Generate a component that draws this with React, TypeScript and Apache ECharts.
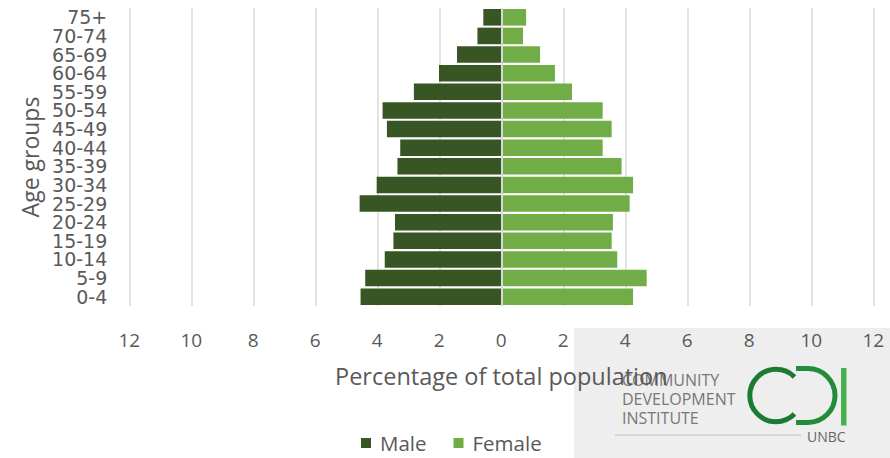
import React, { useEffect, useRef } from "react";
import * as echarts from "echarts";

const ageGroups = ["0-4", "5-9", "10-14", "15-19", "20-24", "25-29", "30-34", "35-39", "40-44", "45-49", "50-54", "55-59", "60-64", "65-69", "70-74", "75+"];
const maleValues = [4.54, 4.39, 3.76, 3.48, 3.43, 4.57, 4.02, 3.35, 3.26, 3.69, 3.83, 2.82, 2.01, 1.43, 0.77, 0.58];
const femaleValues = [4.25, 4.69, 3.74, 3.56, 3.6, 4.14, 4.25, 3.88, 3.27, 3.56, 3.27, 2.28, 1.73, 1.25, 0.7, 0.8];
const seriesNames = ["Male", "Female"];
const axisTitleX = "Percentage of total population";
const axisTitleY = "Age groups";
const logoLines = ["COMMUNITY", "DEVELOPMENT", "INSTITUTE"];

const MALE = "#375623";
const FEMALE = "#70AD47";
const TXT = "#595959";

export default function App() {
  const ref = useRef<HTMLDivElement>(null);
  useEffect(() => {
    document.body.style.margin = "0";
    const chart = echarts.init(ref.current!, null, { renderer: "svg" });
    chart.setOption({
      animation: false,
      backgroundColor: "#ffffff",
      grid: { left: 129.3, right: 16.7, top: 8, bottom: 152, containLabel: false },
      xAxis: {
        type: "value",
        min: -12,
        max: 12,
        interval: 2,
        axisLine: { show: false },
        axisTick: { show: false },
        splitLine: { show: true, lineStyle: { color: "#d9d9d9", width: 1.5 } },
        axisLabel: {
          formatter: (v: number) => String(Math.abs(v)),
          color: TXT,
          fontFamily: "Open Sans",
          fontSize: 19,
          margin: 24,
        },
        name: axisTitleX,
        nameLocation: "middle",
        nameGap: 58,
        nameTextStyle: { color: TXT, fontFamily: "Open Sans", fontSize: 23.5 },
      },
      yAxis: {
        type: "category",
        data: ageGroups,
        axisLine: { show: false },
        axisTick: { show: false },
        axisLabel: {
          interval: 0,
          hideOverlap: false,
          color: TXT,
          fontFamily: "DejaVu Sans",
          fontSize: 19,
          lineHeight: 19,
          margin: 22,
        },
        name: axisTitleY,
        nameLocation: "middle",
        nameRotate: 90,
        nameGap: 88,
        nameTextStyle: { color: TXT, fontFamily: "Open Sans", fontSize: 23 },
      },
      legend: {
        data: seriesNames,
        left: 361,
        top: 432,
        icon: "rect",
        itemWidth: 10,
        itemHeight: 10,
        itemGap: 27,
        padding: 0,
        textStyle: { color: TXT, fontFamily: "Open Sans", fontSize: 20.5, lineHeight: 22, padding: [0, 0, 0, 4] },
      },
      series: [
        {
          name: seriesNames[0],
          type: "bar",
          stack: "pop",
          data: maleValues.map((v) => -v),
          itemStyle: { color: MALE },
          barCategoryGap: "11%",
        },
        {
          name: seriesNames[1],
          type: "bar",
          stack: "pop",
          data: femaleValues,
          itemStyle: { color: FEMALE },
          barCategoryGap: "11%",
          markLine: {
            silent: true,
            symbol: "none",
            label: { show: false },
            lineStyle: { color: "#d9d9d9", width: 2, type: "solid" },
            data: [{ xAxis: 0 }],
          },
        },
      ],
      graphic: [
        { type: "rect", z: -10, silent: true, shape: { x: 574, y: 328, width: 316, height: 130 }, style: { fill: "#eeeeee" } },
        {
          type: "group",
          z: 10,
          children: [
            ...logoLines.map((t, i) => ({
              type: "text",
              x: 622,
              y: 380 + i * 19,
              style: { text: t, fill: "#777777", font: "16px 'Open Sans'", textVerticalAlign: "middle" },
            })),
            { type: "line", shape: { x1: 615, y1: 435, x2: 801, y2: 435 }, style: { stroke: "#bdbdbd", lineWidth: 1.2 } },
            { type: "text", x: 807, y: 436, style: { text: "UNBC", fill: "#666666", font: "14px 'Open Sans'", textVerticalAlign: "middle" } },
            {
              type: "arc",
              shape: { cx: 776, cy: 395.5, r: 26.2, startAngle: Math.PI / 4, endAngle: (Math.PI * 7) / 4, clockwise: true },
              style: { stroke: "#1d7a33", lineWidth: 5, fill: "none" },
            },
            {
              type: "arc",
              shape: { cx: 808, cy: 395.5, r: 27, startAngle: -Math.PI / 2, endAngle: Math.PI / 2, clockwise: true },
              style: { stroke: "#238c3b", lineWidth: 5, fill: "none" },
            },
            { type: "line", shape: { x1: 796, y1: 368.5, x2: 808.5, y2: 368.5 }, style: { stroke: "#238c3b", lineWidth: 5 } },
            { type: "line", shape: { x1: 796, y1: 422.5, x2: 808.5, y2: 422.5 }, style: { stroke: "#238c3b", lineWidth: 5 } },
            { type: "rect", shape: { x: 841, y: 368, width: 5.5, height: 57.5 }, style: { fill: "#46b04f" } },
          ],
        },
      ],
    });
    return () => chart.dispose();
  }, []);
  return <div ref={ref} style={{ width: 890, height: 458 }} />;
}
